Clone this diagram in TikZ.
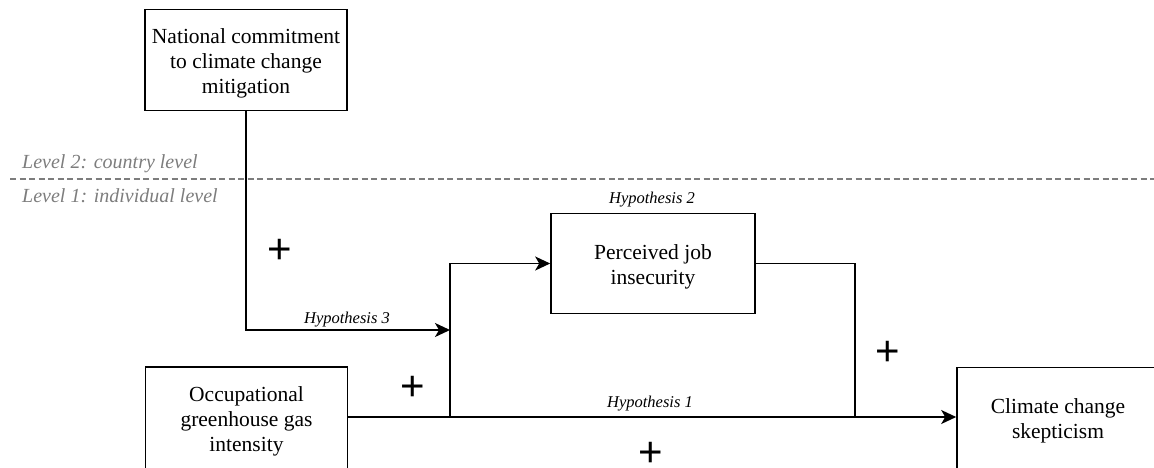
\documentclass[tikz,border=0pt]{standalone}
\usepackage{fontspec}
\setmainfont{Liberation Serif}
\newfontfamily\plusfont{Liberation Sans}
\newfontfamily\serifx{Liberation Serif}
\usetikzlibrary{arrows.meta}
\definecolor{lvlgray}{RGB}{125,125,125}
\newcommand{\toppad}{\rule{0pt}{21pt}}
\tikzset{
  box/.style={draw=black, line width=1.6pt, minimum width=202pt, minimum height=101pt, align=center, font=\serifx\fontsize{21.5}{25}\selectfont, inner sep=2pt},
  conn/.style={line width=1.6pt, draw=black},
  arr/.style={conn, -{Stealth[length=15pt,width=14pt,inset=4pt]}},
  hyp/.style={font=\serifx\itshape\fontsize{16.5}{19}\selectfont, anchor=base, inner sep=0pt},
  lvl/.style={font=\serifx\itshape\fontsize{20}{23}\selectfont, text=lvlgray, anchor=base west, inner sep=0pt},
  plus/.style={font=\plusfont\fontsize{42}{42}\selectfont, inner sep=0pt},
}
\begin{document}
\begin{tikzpicture}[x=1pt,y=-1pt]
\useasboundingbox (0,0) rectangle (1154,467);
\node[box] (nat) at (246,60) {\toppad National commitment\\to climate change\\mitigation};
\node[box, minimum width=204pt, minimum height=100pt] (job) at (653,263.5) {\toppad Perceived job\\insecurity};
\node[box, minimum height=102pt] (occ) at (246.5,418) {\toppad Occupational\\greenhouse gas\\intensity};
\node[box] (clim) at (1058,418) {\toppad Climate change\\skepticism};
\draw[lvlgray, line width=1.4pt, dash pattern=on 6pt off 3.5pt] (10,179) -- (1154,179);
\node[lvl] (l2) at (22,168.5) {Level 2: country level};
\node[lvl] (l1) at (22,202.5) {Level 1: individual level};
\coordinate (j3) at (450,330);
\coordinate (j1) at (450,417);
\coordinate (j2) at (855,417);
\draw[arr] (nat.south) |- (j3);
\draw[arr] (occ.east |- j1) -- (clim.west |- j1);
\draw[arr] (j1) |- (job.west);
\draw[conn] (job.east) -| (j2);
\node[hyp] (h3) at (347,323) {Hypothesis 3};
\node[hyp] (h2) at (652,203) {Hypothesis 2};
\node[hyp] (h1) at (650,407) {Hypothesis 1};
\node[plus] (p3) at (280,251) {+};
\node[plus] (p1a) at (413,388) {+};
\node[plus] (p2) at (888,353) {+};
\node[plus] (p1b) at (651,454) {+};
\end{tikzpicture}
\end{document}
